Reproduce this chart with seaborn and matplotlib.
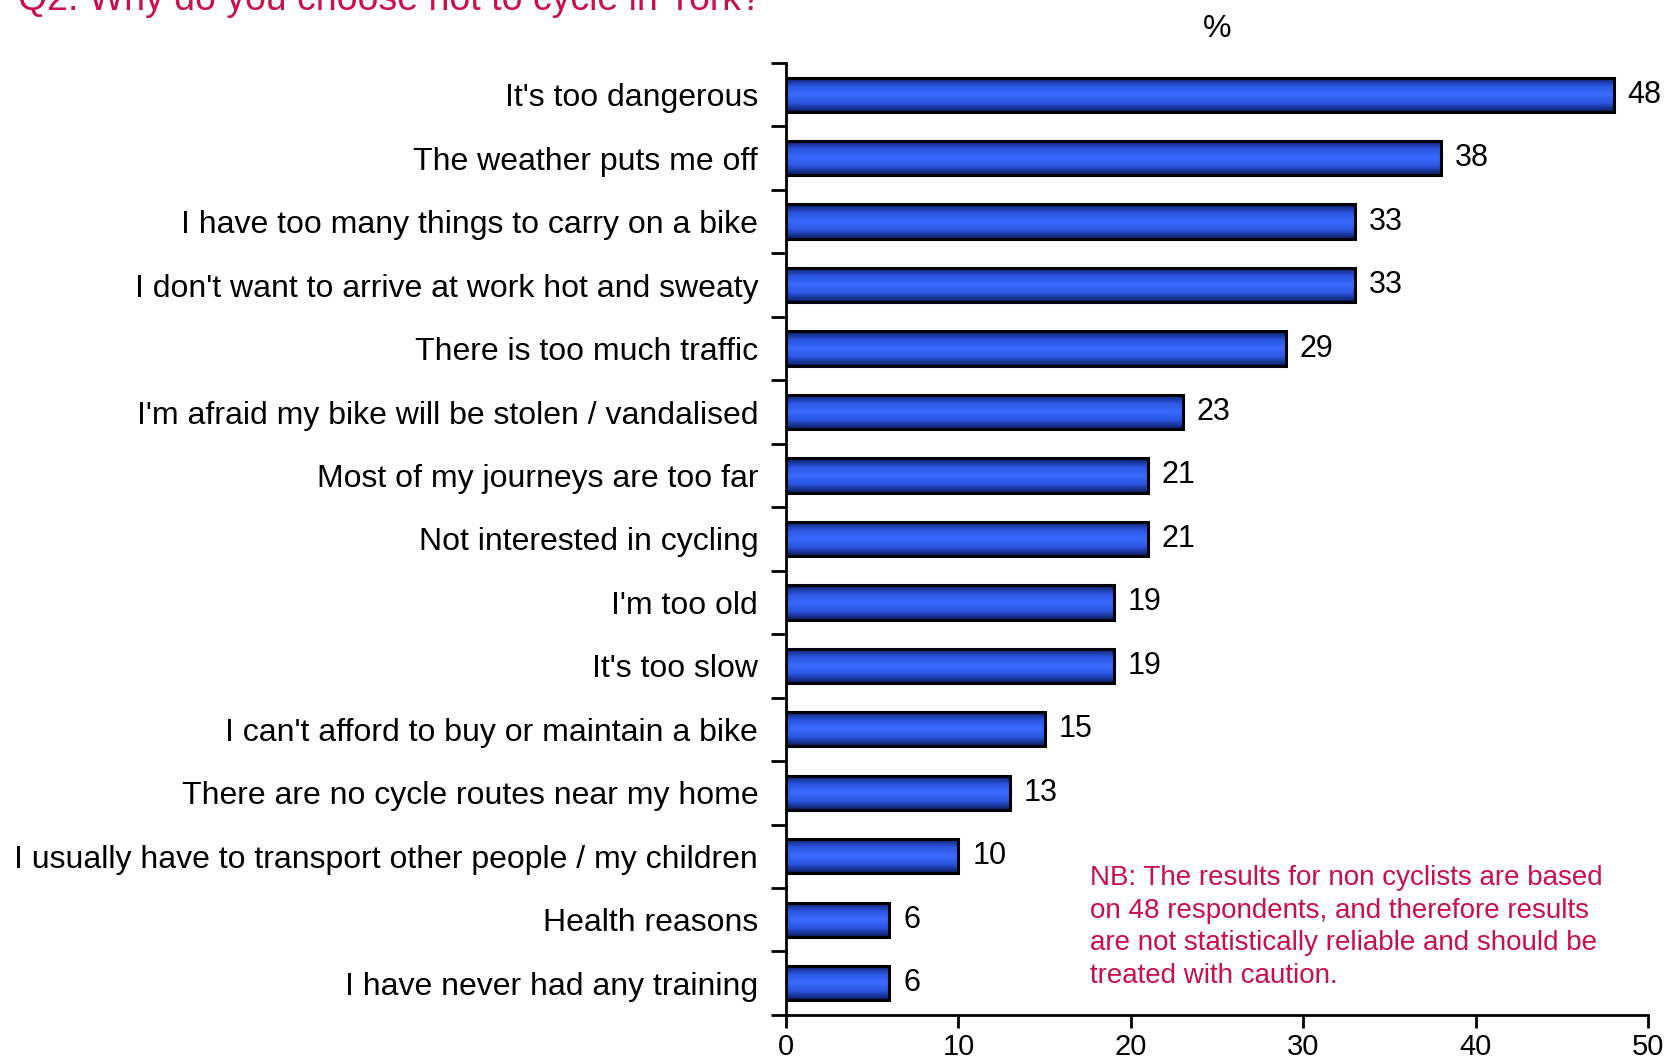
import numpy as np
import matplotlib
matplotlib.use('Agg')
import matplotlib.pyplot as plt
import seaborn as sns
from matplotlib.colors import LinearSegmentedColormap

# Data
reasons = [
    "It's too dangerous",
    "The weather puts me off",
    "I have too many things to carry on a bike",
    "I don't want to arrive at work hot and sweaty",
    "There is too much traffic",
    "I'm afraid my bike will be stolen / vandalised",
    "Most of my journeys are too far",
    "Not interested in cycling",
    "I'm too old",
    "It's too slow",
    "I can't afford to buy or maintain a bike",
    "There are no cycle routes near my home",
    "I usually have to transport other people / my children",
    "Health reasons",
    "I have never had any training",
]
percent = [48, 38, 33, 33, 29, 23, 21, 21, 19, 19, 15, 13, 10, 6, 6]
x_ticks = [0, 10, 20, 30, 40, 50]

title = "Q2. Why do you choose not to cycle in York?"
note = ("NB: The results for non cyclists are based\n"
        "on 48 respondents, and therefore results\n"
        "are not statistically reliable and should be\n"
        "treated with caution.")

sns.set_style('white')
plt.rcParams['font.family'] = ['Liberation Sans', 'DejaVu Sans']
plt.rcParams['text.color'] = 'black'
plt.rcParams['xtick.color'] = 'black'
plt.rcParams['ytick.color'] = 'black'

crimson = '#c8104a'

fig = plt.figure(figsize=(16.77, 10.60), dpi=100)
ax = fig.add_axes([0.4687, 0.0425, 0.5140, 0.8981])

sns.barplot(x=percent, y=reasons, orient='h', ax=ax, width=0.54,
            color='#3366ff', edgecolor='black', linewidth=2.2, saturation=1)

# Gradient fill inside each bar (dark edges, bright middle)
grad_cmap = LinearSegmentedColormap.from_list(
    'bar', ['#0b1b5e', '#2a55e0', '#3a6bff', '#2a55e0', '#0b1b5e'])
grad = np.linspace(0, 1, 64).reshape(-1, 1)
for patch in ax.patches:
    x0, y0 = patch.get_x(), patch.get_y()
    w, h = patch.get_width(), patch.get_height()
    im = ax.imshow(grad, cmap=grad_cmap, aspect='auto',
                   extent=[x0, x0 + w, y0 + h, y0], zorder=patch.get_zorder() - 0.1,
                   interpolation='bilinear')
    im.set_clip_path(patch)
    patch.set_facecolor('none')
    patch.set_zorder(patch.get_zorder() + 0.5)

# Value labels
for i, v in enumerate(percent):
    ax.annotate(str(v), (v, i), xytext=(10, 0), textcoords='offset points',
                va='center', ha='left', fontsize=22, color='black')

ax.set_xlim(0, 50)
ax.set_ylim(len(reasons) - 0.5, -0.5)
ax.set_xticks(x_ticks)
ax.set_xticklabels([str(t) for t in x_ticks], fontsize=21)
ax.tick_params(axis='x', direction='out', length=9, width=2, pad=4, bottom=True)

ax.set_yticks(range(len(reasons)))
ax.set_yticklabels(reasons, fontsize=23)
ax.tick_params(axis='y', which='major', length=0, pad=20)
ax.set_yticks(np.arange(-0.5, len(reasons), 1), minor=True)
ax.tick_params(axis='y', which='minor', direction='out', length=11, width=2, left=True)

ax.set_xlabel('')
ax.set_ylabel('')
for side in ['top', 'right']:
    ax.spines[side].set_visible(False)
for side in ['left', 'bottom']:
    ax.spines[side].set_color('black')
    ax.spines[side].set_linewidth(2)
ax.set_title('%', fontsize=23, pad=19)

fig.text(0.011, 0.991, title, fontsize=27, color=crimson, ha='left', va='baseline')
fig.text(0.650, 0.184, note, fontsize=20, color=crimson, ha='left', va='top',
         linespacing=1.33)

fig.savefig('out.png', dpi=100)
